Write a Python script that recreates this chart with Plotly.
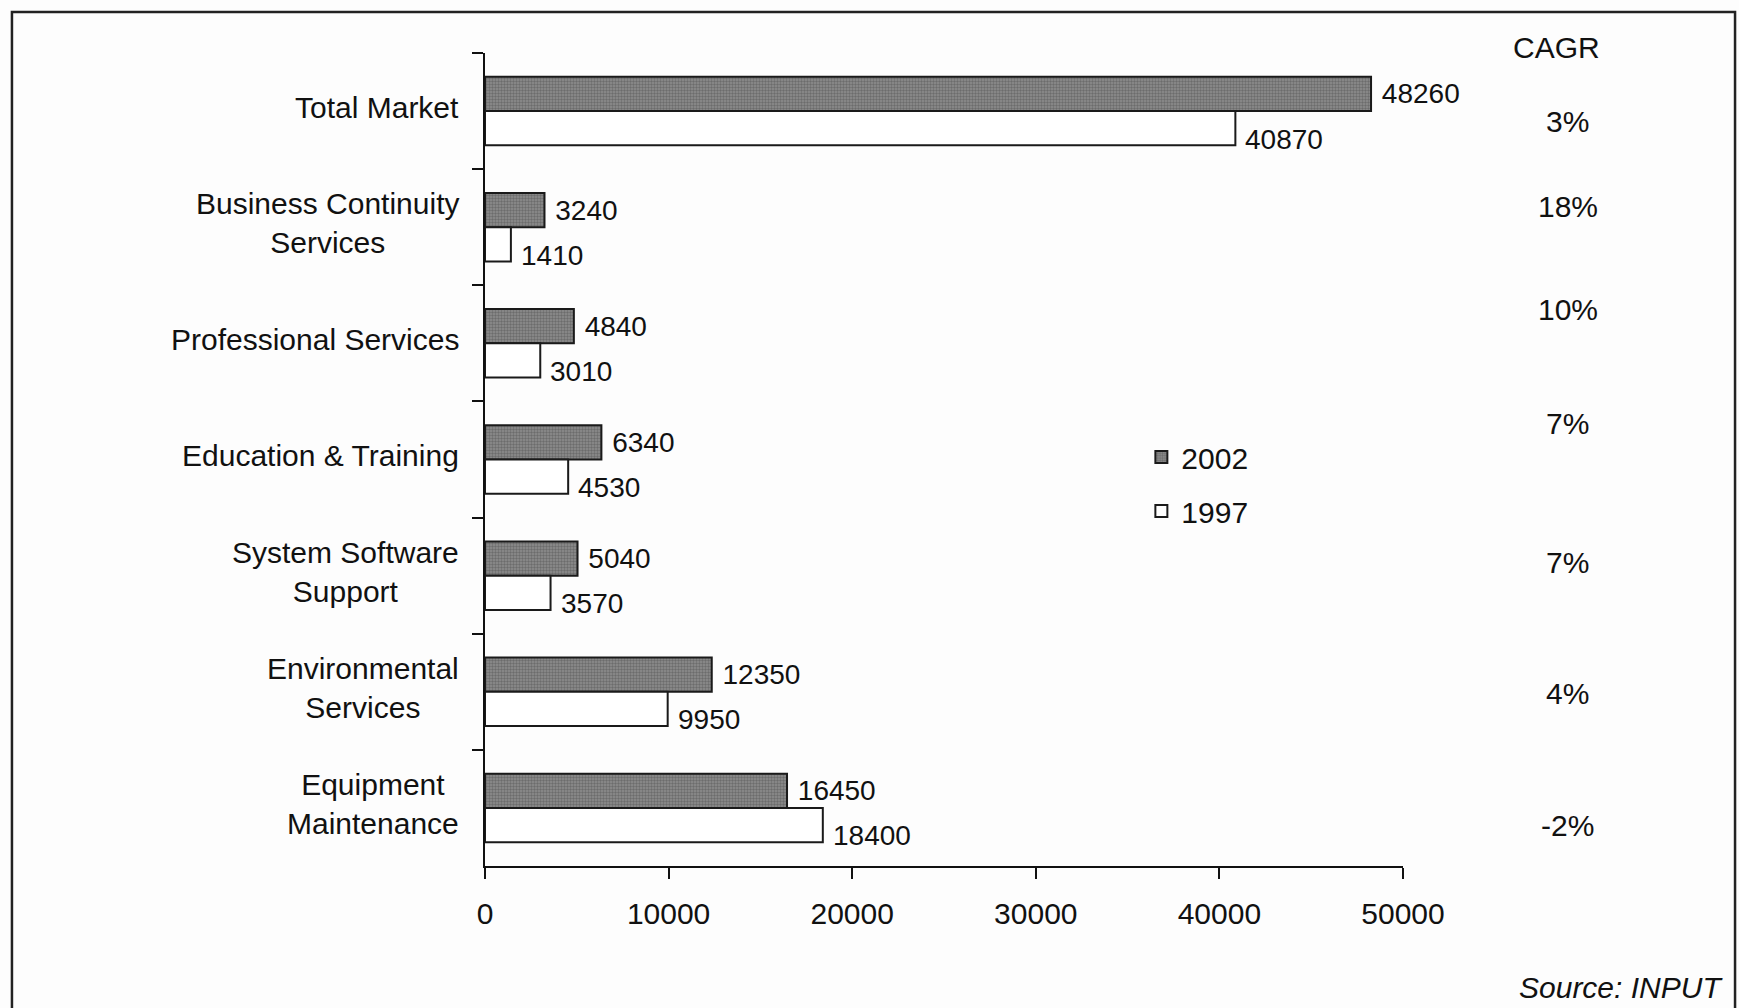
import plotly.graph_objects as go

# Market segments, top to bottom
categories = [
    "Total Market",
    "Business Continuity<br>Services",
    "Professional Services",
    "Education & Training",
    "System Software<br>Support",
    "Environmental<br>Services",
    "Equipment<br>Maintenance",
]
values_2002 = [48260, 3240, 4840, 6340, 5040, 12350, 16450]
values_1997 = [40870, 1410, 3010, 4530, 3570, 9950, 18400]
cagr_labels = ["3%", "18%", "10%", "7%", "7%", "4%", "-2%"]
x_ticks = [0, 10000, 20000, 30000, 40000, 50000]

# vertical nudges (px) for the CAGR column text
cagr_yshift = [-10, 21, 34, 36, 13, -2, -18]

FONT = "Arial, Liberation Sans, sans-serif"
W, H = 1739, 1008
ML, MR, MT, MB = 485, 336, 53, 142

fig = go.Figure()
fig.add_trace(go.Bar(
    name="2002", y=categories, x=values_2002, orientation="h",
    marker=dict(color="#858585", line=dict(color="#1a1a1a", width=2),
                pattern=dict(shape=".", fgcolor="#4a4a4a", bgcolor="#8e8e8e",
                             size=3, solidity=0.5)),
    text=[str(v) for v in values_2002], texttemplate=" %{text}",
    textposition="outside",
    textfont=dict(family=FONT, size=28, color="#111"),
    constraintext="none", cliponaxis=False, legendgroup="a",
))
fig.add_trace(go.Bar(
    name="1997", y=categories, x=values_1997, orientation="h",
    marker=dict(color="#ffffff", line=dict(color="#1a1a1a", width=2)),
    legendgroup="b",
))

annotations = []
# 1997 value labels sit a little below their bars
for cat, v in zip(categories, values_1997):
    annotations.append(dict(
        x=v, xref="x", y=cat, yref="y", xanchor="left", yanchor="middle",
        xshift=8, yshift=-28, text=str(v), showarrow=False,
        font=dict(family=FONT, size=28, color="#111"),
    ))
# category labels, centred line by line
for cat in categories:
    annotations.append(dict(
        x=0, xref="paper", y=cat, yref="y", xanchor="right", yanchor="middle",
        xshift=-24, yshift=4, text=cat, align="center", showarrow=False,
        font=dict(family=FONT, size=30, color="#111"),
    ))
# CAGR column
annotations.append(dict(
    x=1.1667, xref="paper", y=1.0062, yref="paper", text="CAGR",
    xanchor="center", yanchor="middle", showarrow=False,
    font=dict(family=FONT, size=30, color="#111"),
))
for cat, lab, dy in zip(categories, cagr_labels, cagr_yshift):
    annotations.append(dict(
        x=1.1797, xref="paper", y=cat, yref="y", yshift=dy, text=lab,
        xanchor="center", yanchor="middle", showarrow=False,
        font=dict(family=FONT, size=30, color="#111"),
    ))
annotations.append(dict(
    x=1.3508, xref="paper", y=-0.150, yref="paper", text="<i>Source: INPUT</i>",
    xanchor="right", yanchor="middle", showarrow=False,
    font=dict(family=FONT, size=30, color="#111"),
))

# outer frame (open at the bottom edge of the page)
frame = dict(type="rect", xref="paper", yref="paper",
             x0=-0.5153, x1=1.3617, y0=-0.20, y1=1.0504,
             line=dict(color="#222", width=2.5), fillcolor="rgba(0,0,0,0)",
             layer="below")

fig.update_layout(
    width=W, height=H,
    margin=dict(l=ML, r=MR, t=MT, b=MB),
    paper_bgcolor="#fdfdfd", plot_bgcolor="#fdfdfd",
    barmode="group", bargap=0.41, bargroupgap=0,
    showlegend=True,
    legend=dict(x=0.715, y=0.47, xanchor="left", yanchor="middle",
                font=dict(family=FONT, size=30, color="#111"),
                bgcolor="rgba(0,0,0,0)", itemwidth=30, tracegroupgap=12,
                traceorder="grouped"),
    annotations=annotations,
    shapes=[frame],
    font=dict(family=FONT, color="#111"),
)
fig.update_xaxes(
    range=[0, 50000], tickvals=x_ticks, ticktext=[str(v) for v in x_ticks],
    showgrid=False, zeroline=False, showline=True, linecolor="#111", linewidth=2,
    ticks="outside", ticklen=11, tickwidth=2, tickcolor="#111",
    tickfont=dict(family=FONT, size=30, color="#111"), ticklabelstandoff=9,
)
fig.update_yaxes(
    categoryorder="array", categoryarray=categories, autorange="reversed",
    showgrid=False, zeroline=False, showline=True, linecolor="#111", linewidth=2,
    ticks="outside", ticklen=11, tickwidth=2, tickcolor="#111",
    tickson="boundaries", showticklabels=False,
)

fig.write_html("out.html")
